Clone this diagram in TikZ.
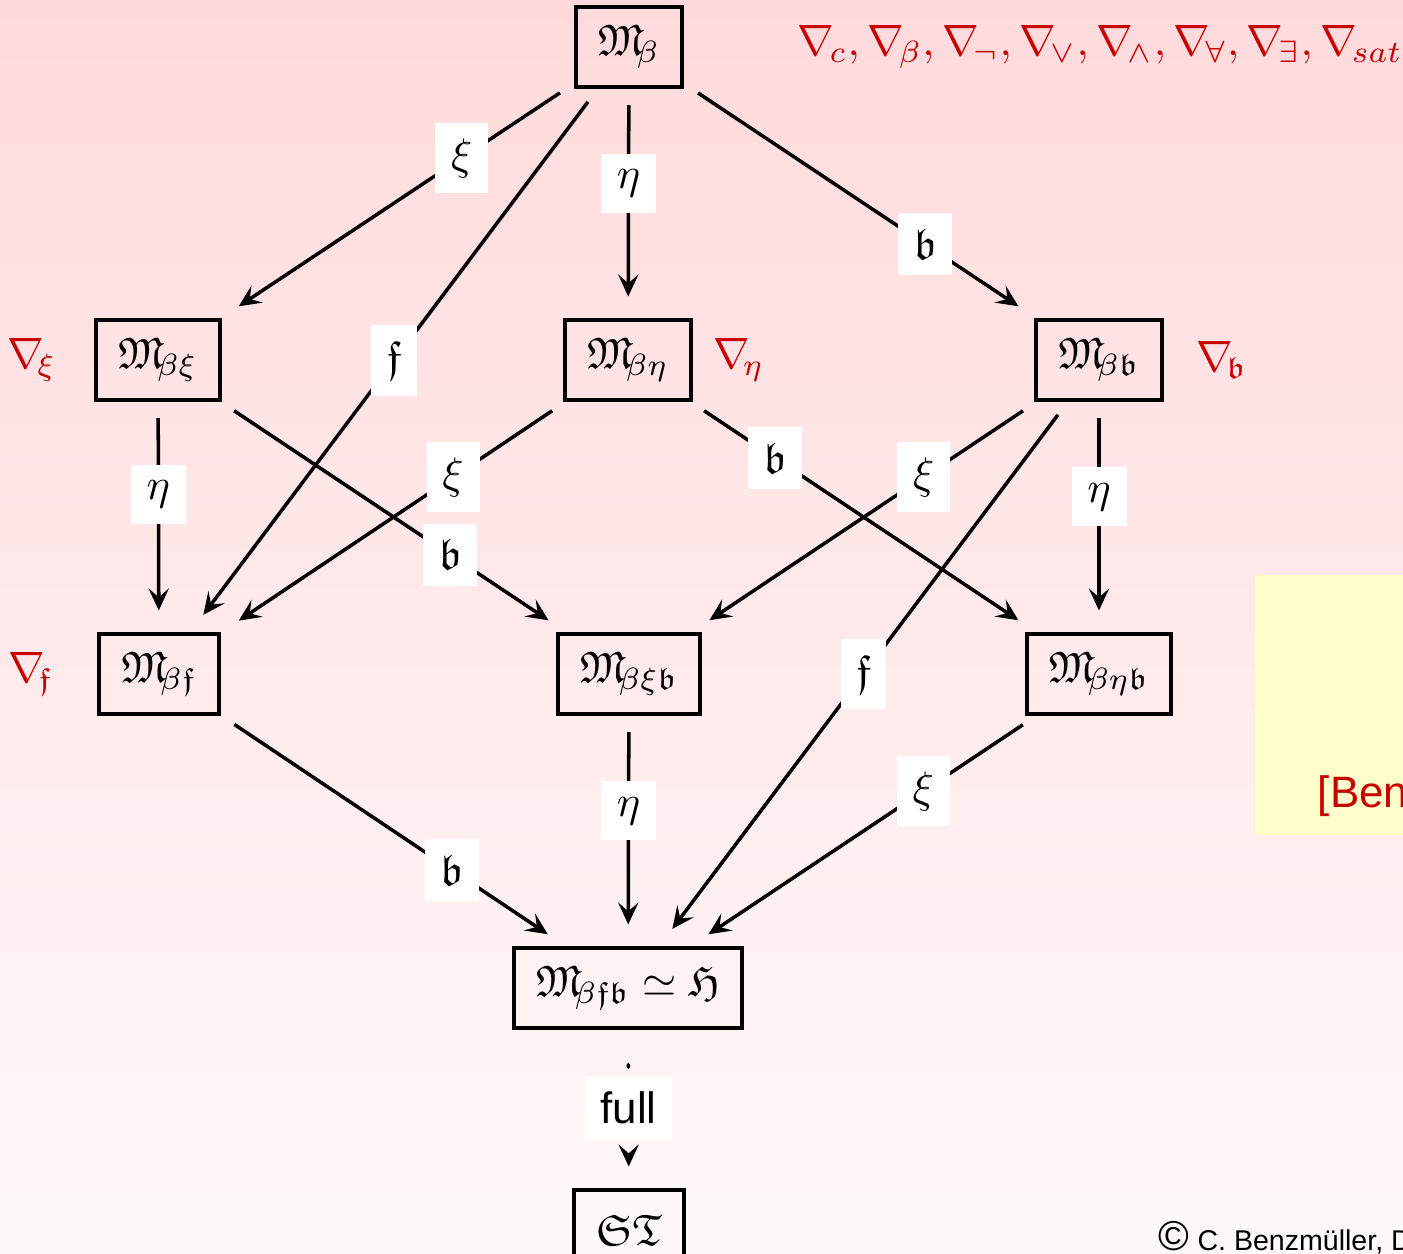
\documentclass[tikz,border=0pt]{standalone}
\usepackage{amsmath,amssymb}
\usepackage{xcolor}
\usepackage{fontspec}
\newfontfamily\helv{Liberation Sans}
\usepackage{tikz}
\usetikzlibrary{positioning,calc,arrows.meta}

\definecolor{alertred}{RGB}{200,0,0}
\definecolor{bgtop}{RGB}{255,218,220}
\definecolor{bgbot}{RGB}{255,249,249}
\definecolor{notebg}{RGB}{255,255,204}

\tikzset{
  model/.style={draw,rectangle,line width=0.9pt,minimum height=18pt,inner xsep=5pt},
  arr/.style={-{Stealth[length=5pt,width=4.6pt,inset=2pt]},line width=0.8pt,shorten <=3.8pt,shorten >=5pt},
  lbl/.style={fill=white,inner sep=3.6pt},
  nab/.style={text=alertred}
}

\begin{document}
\begin{tikzpicture}[x=0.08mm,y=-0.08mm]
    % background and note
    \shade[top color=bgtop,bottom color=bgbot] (0,0) rectangle (1403,1254);
    \useasboundingbox (0,0) rectangle (1403,1254);
    \fill[notebg] (1255,575) rectangle (1403,835);
    \node[anchor=base west,text=alertred,inner sep=0pt] (cite) at (1317,808) {\helv [Ben};
    \node[anchor=base west,inner sep=0pt,font=\fontsize{6.5}{7}\selectfont] (copy) at (1158,1250) {\helv{\fontsize{9.5}{9}\selectfont\textcopyright}\ C. Benzm\"uller, D};

    % models
    \node[model] (Mb) at (629,47) {$\mathfrak{M}\!_\beta$};
    \node[model] (Mbxi) at (158,360) {$\mathfrak{M}\!_{\beta\xi}$};
    \node[model] (Mbeta) at (628,360) {$\mathfrak{M}\!_{\beta\eta}$};
    \node[model] (Mbb) at (1099,360) {$\mathfrak{M}\!_{\beta\mathfrak{b}}$};
    \node[model] (Mbf) at (159,674) {$\mathfrak{M}\!_{\beta\mathfrak{f}}$};
    \node[model] (Mbxib) at (629,674) {$\mathfrak{M}\!_{\beta\xi\mathfrak{b}}$};
    \node[model] (Mbetab) at (1099,674) {$\mathfrak{M}\!_{\beta\eta\mathfrak{b}}$};
    \node[model] (Mbfb) at (628,988) {$\mathfrak{M}\!_{\beta\mathfrak{f}\mathfrak{b}}\simeq\mathfrak{H}$};
    \node[model] (ST) at (629,1230) {$\mathfrak{S}\mathfrak{T}$};

    % abstract consistency properties
    \node[nab,anchor=west,inner sep=0pt] (nabtop) at (797,47) {$\nabla\mkern-2mu_c, \nabla\mkern-2mu_\beta, \nabla\mkern-2mu_\neg, \nabla\mkern-2mu_\vee, \nabla\mkern-2mu_\wedge, \nabla\mkern-2mu_\forall, \nabla\mkern-2mu_\exists, \nabla\mkern-2mu_{sat}$};
    \node[nab] (nabxi) at (32,360) {$\nabla\!_\xi$};
    \node[nab] (nabeta) at (739,360) {$\nabla\!_\eta$};
    \node[nab] (nabb) at (1222,360) {$\nabla\!_{\mathfrak{b}}$};
    \node[nab] (nabf) at (31,674) {$\nabla\!_{\mathfrak{f}}$};

    % first layer
    \draw[arr] (Mb) -- (Mbxi);
    \draw[arr] (Mb) -- (Mbf);
    \draw[arr] (Mb) -- (Mbeta);
    \draw[arr] (Mb) -- (Mbb);
    \node[lbl] at ($(Mb)!0.355!(Mbxi)$) {$\xi$};
    \node[lbl] at ($(Mb)!0.5!(Mbf)$) {$\mathfrak{f}$};
    \node[lbl] at ($(Mb)!0.435!(Mbeta)$) {$\eta$};
    \node[lbl] at ($(Mb)!0.63!(Mbb)$) {$\mathfrak{b}$};

    % second layer
    \draw[arr] (Mbxi) -- (Mbf);
    \draw[arr] (Mbxi) -- (Mbxib);
    \draw[arr] (Mbeta) -- (Mbf);
    \draw[arr] (Mbeta) -- (Mbetab);
    \draw[arr] (Mbb) -- (Mbxib);
    \draw[arr] (Mbb) -- (Mbfb);
    \draw[arr] (Mbb) -- (Mbetab);
    \node[lbl] at ($(Mbxi)!0.427!(Mbf)$) {$\eta$};
    \node[lbl] at ($(Mbxi)!0.62!(Mbxib)$) {$\mathfrak{b}$};
    \node[lbl] at ($(Mbeta)!0.373!(Mbf)$) {$\xi$};
    \node[lbl] at ($(Mbeta)!0.312!(Mbetab)$) {$\mathfrak{b}$};
    \node[lbl] at ($(Mbb)!0.373!(Mbxib)$) {$\xi$};
    \node[lbl] at ($(Mbb)!0.5!(Mbfb)$) {$\mathfrak{f}$};
    \node[lbl] at ($(Mbb)!0.436!(Mbetab)$) {$\eta$};

    % third layer
    \draw[arr] (Mbf) -- (Mbfb);
    \draw[arr] (Mbxib) -- (Mbfb);
    \draw[arr] (Mbetab) -- (Mbfb);
    \node[lbl] at ($(Mbf)!0.624!(Mbfb)$) {$\mathfrak{b}$};
    \node[lbl] at ($(Mbxib)!0.436!(Mbfb)$) {$\eta$};
    \node[lbl] at ($(Mbetab)!0.373!(Mbfb)$) {$\xi$};

    % standard models
    \draw[arr,dash pattern=on 0.6pt off 12pt,line cap=round,shorten <=8pt] (Mbfb) -- (ST);
    \node[lbl] at ($(Mbfb)!0.496!(ST)$) {\helv full};
\end{tikzpicture}
\end{document}
